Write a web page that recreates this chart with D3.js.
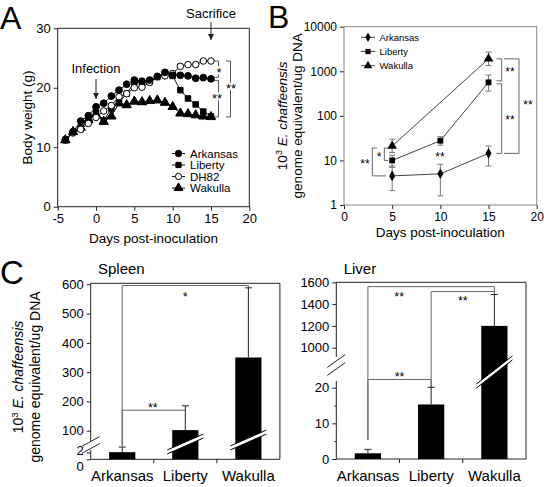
<!DOCTYPE html>
<html><head><meta charset="utf-8">
<script src="https://cdn.jsdelivr.net/npm/d3@7"></script>
<style>body{margin:0;background:#fff}svg{display:block;background:#fff}</style>
</head><body>
<script>
// ---------------- DATA ----------------
// Panel A: body weight
const days = [-4,-3,-2,-1,0,1,2,3,4,5,6,7,8,9,10,11,12,13,14,15];
const weightArkansas = [11.3,12.6,14.4,15.3,16.8,17.4,18.6,19.6,20.6,21.3,21.1,21.3,21.9,22.6,22.1,22.1,22.0,21.6,21.7,21.5];
const weightLiberty  = [11.2,12.5,13.1,14.5,15.8,14.5,16.5,17.5,19.0,20.9,20.8,21.0,21.8,22.4,22.0,19.6,18.2,17.2,16.0,15.2];
const weightDH82     = [11.2,12.4,13.0,14.0,15.0,16.1,17.0,18.5,19.0,20.0,20.1,20.9,21.9,22.0,22.4,23.6,23.9,23.9,24.5,24.5];
const weightWakulla  = [11.2,12.6,13.3,14.6,15.5,14.3,15.2,17.4,17.1,17.7,17.6,17.8,17.9,17.5,16.8,15.7,15.6,15.4,15.2,15.1];
const dayTicksA = [-5,0,5,10,15,20];
const weightTicks = [0,10,20,30];

// Panel B: bacterial load in blood (log scale)
const qDays = [5,10,15];
const qArkansas = [4.5,5.0,14.4];
const qArkansasLo = [2.1,1.6,7.5];
const qArkansasHi = [7.5,8.2,21];
const qLiberty = [10,27.7,565];
const qLibertyLo = [7,22,360];
const qLibertyHi = [13,34,820];
const qWakullaDays = [5,15];
const qWakulla = [21,1900];
const qWakullaLo = [15,1350];
const qWakullaHi = [30,2700];
const dayTicksB = [0,5,10,15,20];
const logTicksB = [1,10,100,1000,10000];

// Panel C: tissues
const strains = ["Arkansas","Liberty","Wakulla"];
const spleenMean = [2.1,102,350];
const spleenUpper = [3.6,185,588];
const spleenTicksLow = [0,2];
const spleenTicksHigh = [100,200,300,400,500,600];
const liverMean = [1.6,15.3,1200];
const liverUpper = [2.7,20.1,1488];
const liverTicksLow = [0,10,20];
const liverMinorLow = [5,15];
const liverTicksHigh = [1000,1200,1400,1600];

// ---------------- DRAW ----------------
const FF = '"Liberation Sans", Arial, Helvetica, sans-serif';
const svg = d3.select("body").append("svg").attr("width",544).attr("height",487)
  .style("font-family",FF);
const defs = svg.append("defs");
defs.append("marker").attr("id","arr").attr("viewBox","0 0 8 8").attr("refX",8).attr("refY",4)
  .attr("markerWidth",6).attr("markerHeight",6).attr("markerUnits","userSpaceOnUse").attr("orient","auto")
  .append("path").attr("d","M0,0L8,4L0,8Z").attr("fill","#222");

function styleAxis(g, fs){
  g.select(".domain").remove();
  g.selectAll("text").attr("font-size",fs).attr("fill","#000").style("font-family",FF);
  g.selectAll("line").attr("stroke","#222");
}
function star(g,x,y,txt,fs,halo){
  const t=g.append("text").attr("x",x).attr("y",y+fs*0.55).attr("text-anchor","middle")
   .attr("font-size",fs).attr("fill","#000").text(txt);
  if(halo) t.attr("stroke","#fff").attr("stroke-width",3).attr("paint-order","stroke");
  return t;
}
function sym(type,size){ return d3.symbol().type(type).size(size)(); }
const plain = d=>String(d);

// ===== Panel A =====
const xA = d3.scaleLinear().domain([-5,20]).range([57.7,249.3]);
const yA = d3.scaleLinear().domain([0,30]).range([206.7,28.3]);
const A = svg.append("g");
A.append("g").attr("transform",`translate(0,${yA(0)})`)
  .call(d3.axisBottom(xA).tickValues(dayTicksA).tickFormat(plain).tickSize(4).tickPadding(3))
  .call(g=>styleAxis(g,13));
A.append("g").attr("transform",`translate(${xA(-5)},0)`)
  .call(d3.axisLeft(yA).tickValues(weightTicks).tickFormat(plain).tickSize(4).tickPadding(3))
  .call(g=>styleAxis(g,13));
A.append("rect").attr("x",xA(-5)).attr("y",yA(30)).attr("width",xA(20)-xA(-5)).attr("height",yA(0)-yA(30))
  .attr("fill","none").attr("stroke","#222");
const seriesA = [
  {name:"Arkansas", vals:weightArkansas, type:d3.symbolCircle, size:36, fill:"#000"},
  {name:"Liberty", vals:weightLiberty, type:d3.symbolSquare, size:30, fill:"#000"},
  {name:"DH82", vals:weightDH82, type:d3.symbolCircle, size:34, fill:"#fff"},
  {name:"Wakulla", vals:weightWakulla, type:d3.symbolTriangle, size:38, fill:"#000"}
];
const lineA = d3.line().x(d=>xA(d[0])).y(d=>yA(d[1]));
[3,1,2,0].forEach(i=>{
  const s=seriesA[i];
  const pts=days.map((d,j)=>[d,s.vals[j]]);
  A.append("path").attr("d",lineA(pts)).attr("fill","none").attr("stroke","#111").attr("stroke-width",1);
});
[3,1,2,0].forEach(i=>{
  const s=seriesA[i];
  A.append("g").selectAll("path").data(days.map((d,j)=>[d,s.vals[j]])).join("path")
   .attr("transform",d=>`translate(${xA(d[0])},${yA(d[1])})`)
   .attr("d",sym(s.type,s.size)).attr("fill",s.fill).attr("stroke","#000").attr("stroke-width",1);
});
// legend A
seriesA.forEach((s,i)=>{
  const ly=153.5+i*11.5, lx=172;
  A.append("line").attr("x1",lx).attr("x2",lx+13).attr("y1",ly).attr("y2",ly).attr("stroke","#111");
  A.append("path").attr("transform",`translate(${lx+6.5},${ly})`).attr("d",sym(s.type,s.size*0.9))
    .attr("fill",s.fill).attr("stroke","#000");
  A.append("text").attr("x",lx+18).attr("y",ly+4).attr("font-size",11.5).text(s.name);
});
// annotations
A.append("text").attr("x",xA(0)).attr("y",73).attr("text-anchor","middle").attr("font-size",13).text("Infection");
A.append("line").attr("x1",xA(0)).attr("x2",xA(0)).attr("y1",79).attr("y2",99).attr("stroke","#222").attr("marker-end","url(#arr)");
A.append("text").attr("x",xA(15)).attr("y",18).attr("text-anchor","middle").attr("font-size",13).text("Sacrifice");
A.append("line").attr("x1",xA(15)).attr("x2",xA(15)).attr("y1",22).attr("y2",40).attr("stroke","#222").attr("marker-end","url(#arr)");
// brackets A
const lastA = i=>seriesA[i].vals[seriesA[i].vals.length-1];
const yTopA=yA(lastA(2)), yMidA=yA(lastA(0)), yBotA=yA(Math.min(lastA(1),lastA(3)));
const brA = A.append("g").attr("fill","none").attr("stroke","#555");
brA.append("path").attr("d",`M214,${yTopA}H218.5V${yMidA-1.5}H214`);
brA.append("path").attr("d",`M214,${yMidA+1.5}H218.5V${yBotA}H214`);
brA.append("path").attr("d",`M226,${yTopA}H230.5V${yBotA}H226`);
star(A,219,70,"*",13,true);
star(A,217,96,"**",13,true);
star(A,231,86,"**",13,true);
A.append("text").attr("transform",`translate(32,${(yA(0)+yA(30))/2}) rotate(-90)`).attr("text-anchor","middle")
  .attr("font-size",13.5).text("Body weight (g)");
A.append("text").attr("x",(xA(-5)+xA(20))/2).attr("y",243).attr("text-anchor","middle").attr("font-size",13.5).text("Days post-inoculation");
svg.append("text").attr("x",0).attr("y",29).attr("font-size",32).text("A");

// ===== Panel B =====
const xB = d3.scaleLinear().domain([0,20]).range([344,536.7]);
const yB = d3.scaleLog().domain([1,10000]).range([205,26.7]);
const B = svg.append("g");
B.append("g").attr("transform",`translate(0,${yB(1)})`)
  .call(d3.axisBottom(xB).tickValues(dayTicksB).tickFormat(plain).tickSize(4).tickPadding(3))
  .call(g=>styleAxis(g,12));
B.append("g").attr("transform",`translate(${xB(0)},0)`)
  .call(d3.axisLeft(yB).tickValues(logTicksB).tickFormat(plain).tickSize(4).tickPadding(3))
  .call(g=>styleAxis(g,12));
B.append("rect").attr("x",xB(0)).attr("y",yB(10000)).attr("width",xB(20)-xB(0)).attr("height",yB(1)-yB(10000))
  .attr("fill","none").attr("stroke","#888");
const seriesB = [
  {name:"Arkansas", d:qDays, v:qArkansas, lo:qArkansasLo, hi:qArkansasHi, type:d3.symbolDiamond, size:32},
  {name:"Liberty", d:qDays, v:qLiberty, lo:qLibertyLo, hi:qLibertyHi, type:d3.symbolSquare, size:34},
  {name:"Wakulla", d:qWakullaDays, v:qWakulla, lo:qWakullaLo, hi:qWakullaHi, type:d3.symbolTriangle, size:40}
];
const lineB = d3.line().x(d=>xB(d[0])).y(d=>yB(d[1]));
seriesB.forEach(s=>{
  const pts=s.d.map((d,j)=>[d,s.v[j],s.lo[j],s.hi[j]]);
  const eg=B.append("g").attr("stroke","#777").attr("stroke-width",1);
  pts.forEach(p=>{
    eg.append("line").attr("x1",xB(p[0])).attr("x2",xB(p[0])).attr("y1",yB(p[2])).attr("y2",yB(p[3]));
    [p[2],p[3]].forEach(e=>eg.append("line").attr("x1",xB(p[0])-3).attr("x2",xB(p[0])+3).attr("y1",yB(e)).attr("y2",yB(e)));
  });
  B.append("path").attr("d",lineB(pts)).attr("fill","none").attr("stroke","#444").attr("stroke-width",1);
  B.append("g").selectAll("path").data(pts).join("path")
    .attr("transform",p=>`translate(${xB(p[0])},${yB(p[1])})`).attr("d",sym(s.type,s.size)).attr("fill","#000");
});
seriesB.forEach((s,i)=>{
  const ly=37.3+i*14.2, lx=361;
  B.append("line").attr("x1",lx).attr("x2",lx+14).attr("y1",ly).attr("y2",ly).attr("stroke","#444");
  B.append("path").attr("transform",`translate(${lx+7},${ly})`).attr("d",sym(s.type,s.size*0.8)).attr("fill","#000");
  B.append("text").attr("x",lx+18.5).attr("y",ly+3.5).attr("font-size",9.5).text(s.name);
});
// brackets B
const brB=B.append("g").attr("fill","none").attr("stroke","#666");
const yW15=yB(qWakulla[1]), yL15=yB(qLiberty[2]), yA15=yB(qArkansas[2]);
brB.append("path").attr("d",`M496.5,${yW15}H501.7V${yL15-1.5}H496.5`);
brB.append("path").attr("d",`M496.5,${yL15+1.5}H501.7V${yA15}H496.5`);
brB.append("path").attr("d",`M504,${yW15}H519V${yA15}H504`);
star(B,510,69,"**",12,false);
star(B,510,117,"**",12,false);
star(B,528,102,"**",12,false);
const yW5=yB(qWakulla[0]), yL5=yB(qLiberty[0]), yA5=yB(qArkansas[0]);
brB.append("path").attr("d",`M388,${yW5+2}H384.3V${yL5}H388`);
brB.append("path").attr("d",`M377,${yW5+2}H372.3V${yA5}H386`);
star(B,379,154,"*",12,false);
star(B,365,161,"**",12,false);
star(B,440,154,"**",12,false);
const bLab=B.append("text").attr("transform",`translate(286.5,${(yB(1)+yB(10000))/2}) rotate(-90)`).attr("text-anchor","middle").attr("font-size",13.5);
bLab.append("tspan").text("10");
bLab.append("tspan").attr("dy",-5).attr("font-size",9).text("3");
bLab.append("tspan").attr("dy",5).attr("font-style","italic").text(" E. chaffeensis");
B.append("text").attr("transform",`translate(301.5,${(yB(1)+yB(10000))/2}) rotate(-90)`).attr("text-anchor","middle")
  .attr("font-size",13.5).text("genome equivalent/ug DNA");
B.append("text").attr("x",(xB(0)+xB(20))/2).attr("y",237).attr("text-anchor","middle").attr("font-size",13.5).text("Days post-inoculation");
svg.append("text").attr("x",268).attr("y",28).attr("font-size",32).text("B");

// ===== Panel C =====
svg.append("text").attr("x",0).attr("y",284).attr("font-size",33).text("C");

function barBreak(g,cx,cy,half,slope,gap){
  const x1=cx-half,x2=cx+half,y1=cy+slope*half,y2=cy-slope*half;
  g.append("path").attr("d",`M${x1},${y1-gap/2}L${x2},${y2-gap/2}L${x2},${y2+gap/2}L${x1},${y1+gap/2}Z`).attr("fill","#fff");
  g.append("line").attr("x1",x1).attr("y1",y1-gap/2).attr("x2",x2).attr("y2",y2-gap/2).attr("stroke","#000");
  g.append("line").attr("x1",x1).attr("y1",y1+gap/2).attr("x2",x2).attr("y2",y2+gap/2).attr("stroke","#000");
}

function tissuePanel(cfg){
  const g=svg.append("g");
  const x=d3.scaleBand().domain(strains).range(cfg.xr).paddingInner(0.585).paddingOuter(0.2925);
  const yLow=d3.scaleLinear().domain(cfg.lowDom).range(cfg.lowRange);
  const yHigh=d3.scaleLinear().domain(cfg.highDom).range(cfg.highRange);
  const y=v=>v<cfg.split?yLow(v):yHigh(v);
  const L=cfg.xr[0], R=cfg.xr[1], T=cfg.top, Bt=yLow(0);
  // frame
  g.append("path").attr("d",`M${L},${cfg.brk[0]}V${T}H${R}V${Bt}H${L}V${cfg.brk[1]}`).attr("fill","none").attr("stroke","#222");
  // y ticks
  g.append("g").attr("transform",`translate(${L},0)`).call(d3.axisLeft(yHigh).tickValues(cfg.highTicks).tickFormat(plain).tickSize(4).tickPadding(3)).call(a=>styleAxis(a,13));
  const lowAx=g.append("g").attr("transform",`translate(${L},0)`).call(d3.axisLeft(yLow).tickValues(cfg.lowTicks).tickFormat(plain).tickSize(4).tickPadding(3)).call(a=>styleAxis(a,13));
  if(cfg.lowLabelShift) lowAx.selectAll("text").attr("dy",d=>d===0? "0.85em":"0.12em");
  if(cfg.minor) g.append("g").attr("transform",`translate(${L},0)`).call(d3.axisLeft(yLow).tickValues(cfg.minor).tickSize(2).tickFormat("")).call(a=>styleAxis(a,13));
  // axis break marks
  cfg.axisBreak.forEach(o=>g.append("line").attr("x1",L-9).attr("x2",L+9).attr("y1",o+cfg.abSlope*9).attr("y2",o-cfg.abSlope*9).attr("stroke","#222"));
  // category ticks
  strains.slice(0,-1).forEach(s=>{
    const bx=x(s)+x.bandwidth()/2+x.step()/2;
    g.append("line").attr("x1",bx).attr("x2",bx).attr("y1",Bt).attr("y2",Bt+4).attr("stroke","#222");
  });
  strains.forEach((s,i)=>g.append("text").attr("x",x(s)+x.bandwidth()/2).attr("y",481).attr("text-anchor","middle").attr("font-size",15).text(s));
  // brackets (behind)
  const br=g.append("g").attr("fill","none").attr("stroke","#666");
  const cx=s=>x(s)+x.bandwidth()/2;
  cfg.brackets.forEach(b=>{
    br.append("path").attr("d",`M${cx(strains[b.a])},${b.aEnd}V${y(b.lvl)}H${cx(strains[b.b])}V${b.bEnd}`);
    star(g,(cx(strains[b.a])+cx(strains[b.b]))/2+(b.dx||0),y(b.lvl)+b.sdy,b.txt,12.5,false);
  });
  // bars + errors
  cfg.mean.forEach((v,i)=>{
    const s=strains[i], bx=x(s), c=cx(s);
    g.append("line").attr("x1",c).attr("x2",c).attr("y1",y(v)).attr("y2",y(cfg.upper[i])).attr("stroke","#222");
    g.append("line").attr("x1",c-3.5).attr("x2",c+3.5).attr("y1",y(cfg.upper[i])).attr("y2",y(cfg.upper[i])).attr("stroke","#222");
    g.append("rect").attr("x",bx).attr("y",y(v)).attr("width",x.bandwidth()).attr("height",Bt-y(v)).attr("fill","#000");
    if(v>cfg.split) barBreak(g,c,cfg.barBreakY[i],x.bandwidth()/2+5,cfg.bbSlope,4);
  });
  g.append("text").attr("x",cfg.titleX).attr("y",274).attr("font-size",15).text(cfg.title);
  return g;
}

tissuePanel({
  title:"Spleen", titleX:98, xr:[90.7,279.9], top:283.3,
  lowDom:[0,2], lowRange:[459.3,452.5], highDom:[100,600], highRange:[430.7,284.3], split:50,
  lowTicks:spleenTicksLow, highTicks:spleenTicksHigh, lowLabelShift:true,
  brk:[441,450], axisBreak:[441.5,448.5], abSlope:0.55,
  mean:spleenMean, upper:spleenUpper, barBreakY:[0,444,440], bbSlope:0.44,
  brackets:[
    {a:0,b:2,lvl:596,aEnd:446,bEnd:288,txt:"*",sdy:9},
    {a:0,b:1,lvl:170,aEnd:446,bEnd:410,txt:"**",sdy:-5,dx:-1}
  ]
});
tissuePanel({
  title:"Liver", titleX:343.7, xr:[336.3,526], top:282.3,
  lowDom:[0,20], lowRange:[459,387.7], highDom:[1000,1600], highRange:[347.7,282.3], split:500,
  lowTicks:liverTicksLow, highTicks:liverTicksHigh, minor:liverMinorLow,
  brk:[357,381], axisBreak:[361,369], abSlope:0.72,
  mean:liverMean, upper:liverUpper, barBreakY:[0,0,372], bbSlope:0.78,
  brackets:[
    {a:0,b:2,lvl:1560,aEnd:440,bEnd:294,txt:"**",sdy:7,dx:-32},
    {a:1,b:2,lvl:1515,aEnd:387.3,bEnd:294,txt:"**",sdy:7},
    {a:0,b:1,lvl:22.3,aEnd:440,bEnd:387.3,txt:"**",sdy:-5}
  ]
});
// C y-label
const cLab=svg.append("text").attr("transform","translate(23,377) rotate(-90)").attr("text-anchor","middle").attr("font-size",14);
cLab.append("tspan").text("10");
cLab.append("tspan").attr("dy",-5).attr("font-size",9.5).text("3");
cLab.append("tspan").attr("dy",5).attr("font-style","italic").text(" E. chaffeensis");
svg.append("text").attr("transform","translate(40,377) rotate(-90)").attr("text-anchor","middle").attr("font-size",14).text("genome equivalent/ug DNA");
</script>
</body></html>
